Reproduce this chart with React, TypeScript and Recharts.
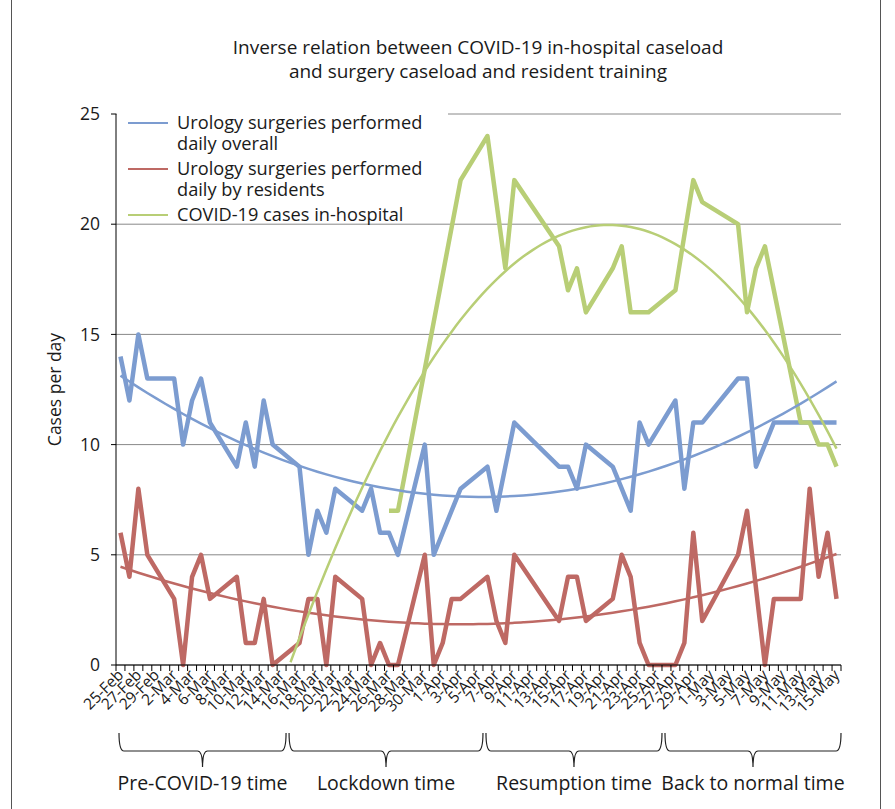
import { LineChart, Line, XAxis, YAxis, CartesianGrid } from 'recharts'

const NA = null

// category axis: one slot per calendar day, 25-Feb .. 15-May
const MONTHS: [string, number, number][] = [['Feb', 25, 29], ['Mar', 1, 31], ['Apr', 1, 30], ['May', 1, 15]]
const DAYS = MONTHS.flatMap(([m, a, b]) => Array.from({ length: b - a + 1 }, (_, k) => `${a + k}-${m}`))

const OVERALL = [
  14, 12, 15, 13, NA, NA, 13, 10, 12, 13,
  11, NA, NA, 9, 11, 9, 12, 10, NA, NA,
  9, 5, 7, 6, 8, NA, NA, 7, 8, 6,
  6, 5, NA, NA, 10, 5, 6, 7, 8, NA,
  NA, 9, 7, 9, 11, NA, NA, NA, NA, 9,
  9, 8, 10, NA, NA, 9, 8, 7, 11, 10,
  NA, NA, 12, 8, 11, 11, NA, NA, NA, 13,
  13, 9, 10, 11, NA, NA, 11, 11, 11, 11,
  11,
]
const RESIDENTS = [
  6, 4, 8, 5, NA, NA, 3, 0, 4, 5,
  3, NA, NA, 4, 1, 1, 3, 0, NA, NA,
  1, 3, 3, 0, 4, NA, NA, 3, 0, 1,
  0, 0, NA, NA, 5, 0, 1, 3, 3, NA,
  NA, 4, 2, 1, 5, NA, NA, NA, NA, 2,
  4, 4, 2, NA, NA, 3, 5, 4, 1, 0,
  NA, NA, 0, 1, 6, 2, NA, NA, NA, 5,
  7, NA, 0, 3, NA, NA, 3, 8, 4, 6,
  3,
]
const COVID = [
  NA, NA, NA, NA, NA, NA, NA, NA, NA, NA,
  NA, NA, NA, NA, NA, NA, NA, NA, NA, NA,
  NA, NA, NA, NA, NA, NA, NA, NA, NA, NA,
  7, 7, NA, NA, NA, NA, NA, NA, 22, NA,
  NA, 24, 21, 18, 22, NA, NA, NA, NA, 19,
  17, 18, 16, NA, NA, 18, 19, 16, 16, 16,
  NA, NA, 17, NA, 22, 21, NA, NA, NA, 20,
  16, 18, 19, 17, NA, NA, 11, 11, 10, 10,
  9,
]

const Y_TICKS = [0, 5, 10, 15, 20, 25]

const PERIODS = [
  { label: 'Pre-COVID-19 time', from: 0, to: 18 },
  { label: 'Lockdown time', from: 19, to: 40 },
  { label: 'Resumption time', from: 41, to: 60 },
  { label: 'Back to normal time', from: 61, to: 80 },
]

const BLUE = '#7c9cd0'
const RED = '#be6964'
const GREEN = '#b8ce76'
const FONT = '"Open Sans", "Noto Sans", sans-serif'
const INK = '#1a1a1a'

const SERIES = [
  { key: 'overall', name: 'Urology surgeries performed daily overall', color: BLUE },
  { key: 'residents', name: 'Urology surgeries performed daily by residents', color: RED },
  { key: 'covid', name: 'COVID-19 cases in-hospital', color: GREEN },
]

// plot frame
const W = 895, H = 809
const PL = 116, PR = 841, PT = 114, PB = 665
const YW = 60, XH = 60
const BW = (PR - PL) / DAYS.length

// 2nd order polynomial trendline, like the spreadsheet one
function quadTrend(ys: (number | null)[]) {
  const S = [0, 0, 0, 0, 0], T = [0, 0, 0]
  ys.forEach((y, i) => {
    if (y == null) return
    const x = i + 1
    for (let k = 0; k < 5; k++) S[k] += x ** k
    for (let k = 0; k < 3; k++) T[k] += y * x ** k
  })
  const M = [[S[0], S[1], S[2], T[0]], [S[1], S[2], S[3], T[1]], [S[2], S[3], S[4], T[2]]]
  for (let c = 0; c < 3; c++) {
    for (let r = c + 1; r < 3; r++) {
      const f = M[r][c] / M[c][c]
      for (let k = c; k < 4; k++) M[r][k] -= f * M[c][k]
    }
  }
  const co = [0, 0, 0]
  for (let r = 2; r >= 0; r--) {
    let s = M[r][3]
    for (let k = r + 1; k < 3; k++) s -= M[r][k] * co[k]
    co[r] = s / M[r][r]
  }
  return ys.map((_, i) => {
    const x = i + 1
    const v = co[0] + co[1] * x + co[2] * x * x
    return v < 0 ? null : v
  })
}

const tOverall = quadTrend(OVERALL)
const tResidents = quadTrend(RESIDENTS)
const tCovid = quadTrend(COVID)

const data = DAYS.map((day, i) => ({
  day,
  overall: OVERALL[i], residents: RESIDENTS[i], covid: COVID[i],
  tOverall: tOverall[i], tResidents: tResidents[i], tCovid: tCovid[i],
}))

function DayTick({ x, y, payload, index }: any) {
  const left = x - BW / 2
  return (
    <g>
      <line x1={left} y1={y} x2={left} y2={y + 6} stroke="#000" />
      {index === DAYS.length - 1 && <line x1={x + BW / 2} y1={y} x2={x + BW / 2} y2={y + 6} stroke="#000" />}
      {index % 2 === 0 && (
        <text x={x + 4} y={y + 11} textAnchor="end" fontSize={15.5} fill={INK} fontFamily={FONT}
          transform={`rotate(-45 ${x + 4} ${y + 11})`}>
          {payload.value}
        </text>
      )}
    </g>
  )
}

function Bracket({ x1, x2, label }: { x1: number; x2: number; label: string }) {
  const m = (x1 + x2) / 2
  const top = 733, mid = 751, low = 767
  const d = `M${x1},${top} Q${x1},${mid} ${x1 + 5},${mid} L${m - 5},${mid} Q${m},${mid} ${m},${low}` +
    ` M${m},${low} Q${m},${mid} ${m + 5},${mid} L${x2 - 5},${mid} Q${x2},${mid} ${x2},${top}`
  return (
    <g>
      <path d={d} fill="none" stroke="#222" strokeWidth={1.2} />
      <text x={m} y={790} textAnchor="middle" fontSize={19.5} fill={INK} fontFamily={FONT}>{label}</text>
    </g>
  )
}

export default function App() {
  return (
    <div style={{ position: 'absolute', left: 0, top: 0, width: W, height: H, background: '#fff', overflow: 'hidden' }}>
      <div style={{ position: 'absolute', left: 11, top: -2, width: 870, height: H + 4, border: '1px solid #555', boxSizing: 'border-box' }} />
      <LineChart width={W} height={H} data={data}
        margin={{ top: PT, right: W - PR, bottom: H - PB - XH, left: PL - YW }}>
        <CartesianGrid vertical={false} stroke="#888" />
        <XAxis dataKey="day" scale="band" interval={0} height={XH} tickSize={0} tickMargin={0}
          axisLine={{ stroke: '#000' }} tickLine={false} tick={<DayTick />} />
        <YAxis domain={[0, 25]} ticks={Y_TICKS} width={YW} tickSize={5} tickMargin={11}
          axisLine={{ stroke: '#000' }} tickLine={{ stroke: '#000' }}
          tick={{ fontSize: 17.5, fill: INK, fontFamily: FONT }} />
        {SERIES.map(s => (
          <Line key={s.key} type="linear" dataKey={s.key} stroke={s.color} strokeWidth={4.5}
            strokeLinejoin="round" connectNulls dot={false} isAnimationActive={false} />
        ))}
        <Line type="monotone" dataKey="tOverall" stroke={BLUE} strokeWidth={2.5} dot={false} isAnimationActive={false} />
        <Line type="monotone" dataKey="tResidents" stroke={RED} strokeWidth={2.5} dot={false} isAnimationActive={false} />
        <Line type="monotone" dataKey="tCovid" stroke={GREEN} strokeWidth={2.5} dot={false} isAnimationActive={false} />
      </LineChart>

      <div style={{ position: 'absolute', left: PL + 1, top: 105, width: 331, height: 117, background: '#fff',
        paddingTop: 6.5, boxSizing: 'border-box', fontFamily: FONT, fontSize: 18.2, lineHeight: '21px', color: INK }}>
        {SERIES.map((s, i) => (
          <div key={s.key} style={{ display: 'flex', alignItems: 'flex-start', marginTop: i ? 4 : 0 }}>
            <div style={{ width: 40, height: 2, background: s.color, marginLeft: 11, marginTop: 10, flexShrink: 0 }} />
            <div style={{ marginLeft: 9, width: 275 }}>{s.name}</div>
          </div>
        ))}
      </div>

      <svg width={W} height={H} style={{ position: 'absolute', left: 0, top: 0, pointerEvents: 'none' }}>
        <text x={478} y={54} textAnchor="middle" fontSize={19} fill={INK} fontFamily={FONT}>
          Inverse relation between COVID-19 in-hospital caseload
        </text>
        <text x={478} y={78} textAnchor="middle" fontSize={19} fill={INK} fontFamily={FONT}>
          and surgery caseload and resident training
        </text>
        <text x={61} y={(PT + PB) / 2} textAnchor="middle" fontSize={17.5} fill={INK} fontFamily={FONT}
          transform={`rotate(-90 61 ${(PT + PB) / 2})`}>
          Cases per day
        </text>
        {PERIODS.map(p => (
          <Bracket key={p.label} label={p.label} x1={PL + p.from * BW + 3} x2={PL + (p.to + 1) * BW} />
        ))}
      </svg>
    </div>
  )
}
